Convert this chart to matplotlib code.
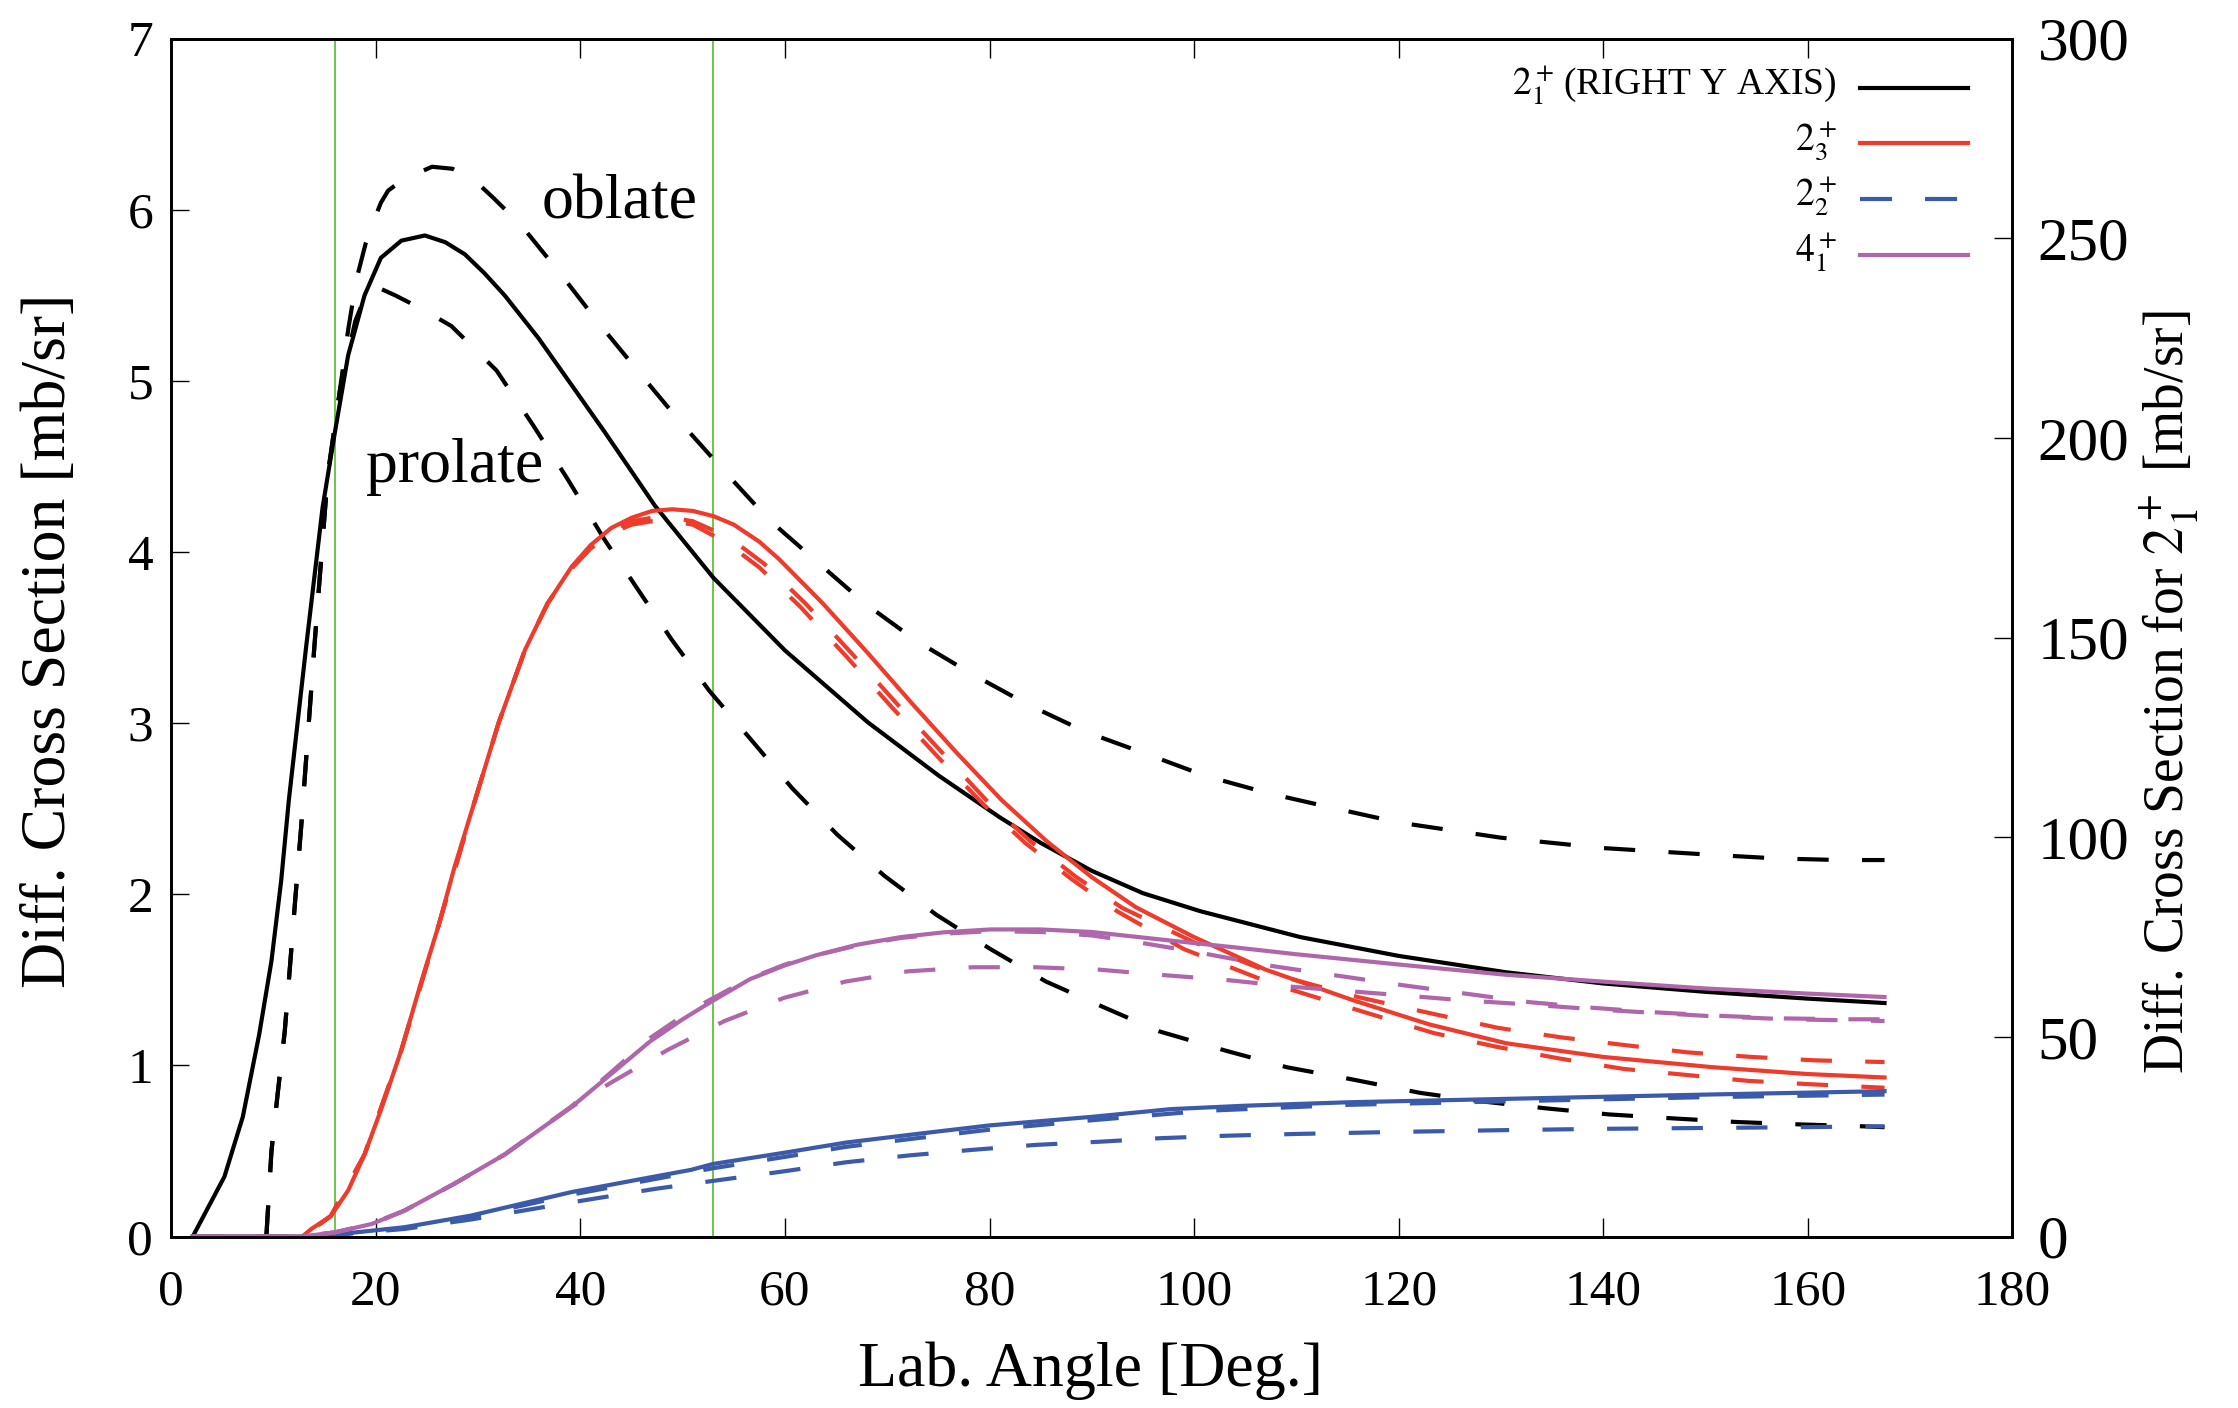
import matplotlib
matplotlib.use('Agg')
import matplotlib.pyplot as plt

plt.rcParams['font.family'] = ['Liberation Serif', 'DejaVu Serif']
plt.rcParams['mathtext.fontset'] = 'stix'

# 2_1+ curves, right axis [mb/sr]
blk_x = [2.1, 5.2, 7.0, 8.6, 9.8, 10.75, 11.5, 13.2, 14.8, 16.0, 17.3, 18.9, 20.5, 22.5, 24.8,
         26.8, 28.7, 30.6, 32.6, 35.9, 39.1, 42.4, 47.3, 53.0, 60.0, 68.1, 75.0, 81.0, 85.0, 90.0,
         95.0, 100.6, 110.4, 120.0, 130.5, 140.0, 150.0, 160.0, 167.5]
blk_y = [0, 15.0, 30.0, 50.6, 69.0, 89.1, 109.3, 147.9, 182.6, 201.4, 220.7, 235.7, 245.1, 249.4,
         250.7, 249.0, 246.0, 241.3, 235.7, 225.0, 213.4, 201.4, 183.0, 165.0, 146.8, 128.8, 115.5,
         105.0, 98.6, 91.6, 86.0, 81.5, 75.0, 70.3, 66.2, 63.4, 61.3, 59.6, 58.5]
obl_x = [9.3, 9.8, 10.4, 11.1, 11.6, 12.1, 12.7, 14.0, 15.3, 16.5, 17.3, 18.1, 19.0, 19.9, 20.5,
         21.2, 22.5, 23.9, 25.5, 27.5, 29.7, 31.5, 34.2, 38.0, 41.9, 46.0, 49.9, 54.1, 58.4, 63.0,
         67.8, 72.9, 78.2, 83.7, 89.4, 95.3, 101.2, 107.3, 114.0, 120.0, 130.0, 140.0, 150.7,
         157.0, 163.2, 167.5]
obl_y = [0, 21.4, 35.6, 51.4, 67.3, 83.6, 102.4, 147.9, 190.7, 212.1, 227.1, 239.6, 248.6, 255.0,
         258.9, 261.9, 264.4, 266.1, 267.9, 267.4, 264.4, 260.1, 253.3, 241.3, 228.4, 215.6, 203.6,
         191.6, 179.6, 169.3, 158.6, 149.1, 141.0, 133.3, 126.4, 120.9, 115.3, 111.0, 107.1, 103.7,
         99.9, 97.3, 95.6, 94.7, 94.3, 94.3]
pro_x = [9.3, 9.8, 10.4, 11.1, 11.6, 12.1, 12.7, 14.0, 15.3, 16.5, 18.0, 19.0, 20.0, 21.9, 24.5,
         27.4, 31.8, 35.4, 38.7, 42.4, 45.4, 48.9, 52.6, 56.6, 60.7, 65.1, 69.7, 74.8, 80.1, 85.5,
         91.2, 96.6, 102.9, 109.1, 115.4, 122.1, 128.0, 134.5, 140.6, 146.9, 153.1, 159.3, 165.7,
         167.5]
pro_y = [0, 21.4, 35.6, 51.4, 67.3, 83.6, 102.4, 147.9, 190.7, 212.1, 229.3, 235.7, 237.9, 235.7,
         232.3, 228.0, 216.9, 203.1, 189.9, 174.4, 162.9, 149.6, 136.7, 124.7, 112.3, 100.7, 90.4,
         80.6, 72.0, 63.9, 57.4, 51.4, 46.7, 42.4, 39.4, 36.0, 33.9, 32.1, 30.6, 29.6, 28.7, 28.1,
         27.6, 27.4]

# 2_3+ (left axis)
red_x = [2.1, 12.8, 13.7, 15.6, 17.3, 18.9, 20.5, 22.5, 24.4, 26.1, 27.7, 29.7, 32.0, 34.6, 36.8,
         39.1, 41.0, 43.0, 45.0, 47.0, 49.0, 51.0, 53.0, 55.0, 57.5, 59.4, 63.7, 68.1, 72.5, 76.9,
         81.2, 85.6, 90.0, 94.3, 100.0, 107.0, 115.6, 123.0, 130.5, 140.0, 150.7, 160.0, 167.5]
red_y = [0, 0, 0.045, 0.12, 0.27, 0.48, 0.74, 1.09, 1.48, 1.81, 2.16, 2.55, 3.0, 3.43, 3.70, 3.91,
         4.04, 4.14, 4.20, 4.24, 4.25, 4.24, 4.21, 4.16, 4.06, 3.96, 3.70, 3.41, 3.11, 2.82, 2.55,
         2.31, 2.10, 1.925, 1.75, 1.56, 1.38, 1.24, 1.13, 1.05, 0.99, 0.95, 0.93]
rda_x = [2.1, 12.8, 15.6, 18.9, 22.5, 26.1, 29.7, 32.0, 34.6, 36.8, 39.1, 41.0, 43.0, 45.0, 47.0,
         49.0, 51.0, 54.0, 56.0, 58.0, 62.0, 66.5, 71.0, 75.5, 80.0, 84.0, 88.5, 93.0, 100.0, 108.0,
         116.0, 123.5, 129.7, 135.8, 142.0, 148.2, 154.5, 160.7, 167.5]
rda_y = [0, 0, 0.12, 0.48, 1.09, 1.81, 2.55, 3.0, 3.43, 3.70, 3.91, 4.03, 4.12, 4.18, 4.20, 4.20,
         4.18, 4.10, 4.02, 3.93, 3.70, 3.41, 3.11, 2.82, 2.53, 2.31, 2.10, 1.92, 1.72, 1.53, 1.40,
         1.30, 1.22, 1.165, 1.12, 1.077, 1.05, 1.03, 1.02]
rdb_x = [2.1, 12.8, 15.6, 18.9, 22.5, 26.1, 29.7, 32.0, 34.6, 36.8, 39.1, 41.0, 43.0, 45.0, 47.0,
         49.0, 51.0, 53.5, 55.5, 57.5, 61.5, 66.0, 70.5, 75.0, 79.5, 83.5, 88.0, 92.5, 99.0, 108.0,
         117.3, 123.4, 129.5, 135.8, 142.0, 148.1, 154.2, 160.4, 167.5]
rdb_y = [0, 0, 0.12, 0.48, 1.09, 1.81, 2.55, 3.0, 3.43, 3.70, 3.90, 4.02, 4.11, 4.16, 4.18, 4.18,
         4.16, 4.08, 4.00, 3.91, 3.68, 3.39, 3.09, 2.80, 2.52, 2.30, 2.09, 1.90, 1.68, 1.47, 1.30,
         1.19, 1.11, 1.04, 0.98, 0.945, 0.91, 0.89, 0.87]

# 2_2+
blu_x = [2.1, 12.7, 16.0, 22.8, 29.3, 39.1, 46.7, 50.8, 53.0, 59.9, 66.0, 72.9, 80.0, 90.0, 97.7,
         105.0, 115.0, 130.5, 150.0, 167.5]
blu_y = [0, 0, 0.012, 0.055, 0.123, 0.26, 0.345, 0.39, 0.425, 0.49, 0.55, 0.60, 0.65, 0.70, 0.745,
         0.765, 0.785, 0.805, 0.83, 0.85]
bda_x = [2.1, 12.7, 16.0, 22.8, 29.3, 39.1, 46.7, 53.0, 59.9, 66.0, 72.9, 80.0, 90.0, 101.0, 115.0,
         130.0, 150.0, 167.5]
bda_y = [0, 0, 0.012, 0.05, 0.115, 0.245, 0.33, 0.40, 0.465, 0.525, 0.575, 0.625, 0.68, 0.735,
         0.77, 0.79, 0.815, 0.83]
bdb_x = [2.1, 12.7, 16.0, 22.8, 29.3, 39.1, 47.4, 53.5, 59.7, 65.9, 72.2, 78.3, 84.5, 90.9, 96.6,
         103.3, 110.0, 120.0, 130.0, 140.0, 150.0, 160.0, 167.5]
bdb_y = [0, 0, 0.01, 0.045, 0.10, 0.20, 0.28, 0.33, 0.38, 0.434, 0.475, 0.507, 0.536, 0.555, 0.575,
         0.59, 0.60, 0.612, 0.622, 0.63, 0.635, 0.64, 0.645]

# 4_1+
pur_x = [2.1, 12.7, 16.0, 19.6, 22.8, 27.7, 32.6, 39.1, 43.0, 46.8, 50.0, 53.0, 56.6, 60.0, 63.1,
         67.0, 71.3, 75.5, 80.1, 85.0, 90.0, 97.7, 104.0, 110.0, 120.0, 130.5, 140.0, 150.0, 160.0,
         167.5]
pur_y = [0, 0, 0.025, 0.074, 0.152, 0.31, 0.48, 0.756, 0.95, 1.14, 1.27, 1.38, 1.505, 1.585, 1.645,
         1.705, 1.75, 1.778, 1.795, 1.795, 1.78, 1.73, 1.69, 1.65, 1.59, 1.53, 1.49, 1.45, 1.42,
         1.40]
pda_x = [2.1, 12.7, 16.0, 19.6, 22.8, 27.7, 32.6, 39.1, 43.0, 46.8, 50.0, 52.4, 56.6, 60.0, 63.1,
         67.0, 71.3, 75.5, 80.1, 85.0, 90.0, 95.0, 100.0, 107.3, 113.9, 120.3, 126.5, 132.8, 139.0,
         145.3, 151.4, 157.7, 164.0, 167.5]
pda_y = [0, 0, 0.025, 0.074, 0.152, 0.31, 0.48, 0.76, 0.96, 1.16, 1.29, 1.375, 1.51, 1.59, 1.645,
         1.70, 1.745, 1.77, 1.785, 1.78, 1.76, 1.715, 1.665, 1.584, 1.526, 1.47, 1.42, 1.37, 1.337,
         1.31, 1.29, 1.275, 1.27, 1.27]
pdb_x = [2.1, 12.7, 16.0, 19.6, 22.8, 27.7, 32.6, 39.1, 43.0, 48.5, 54.1, 59.9, 65.9, 72.0, 78.3,
         84.5, 90.7, 96.6, 103.1, 109.6, 120.3, 126.5, 132.8, 140.0, 150.0, 158.0, 167.5]
pdb_y = [0, 0, 0.025, 0.074, 0.152, 0.31, 0.48, 0.756, 0.90, 1.09, 1.26, 1.395, 1.49, 1.55, 1.574,
         1.574, 1.56, 1.53, 1.50, 1.46, 1.41, 1.38, 1.356, 1.325, 1.29, 1.27, 1.26]

green_x = [16, 53]

RED = '#ee3b2b'
BLUE = '#3b5aaa'
PURPLE = '#b066aa'
GREEN = '#6cc644'
LW = 3.0
DASH = (7.5, 8)

fig = plt.figure(figsize=(22.38, 14.08), dpi=100)
ax = fig.add_axes([0.0765, 0.1217, 0.8227, 0.8509])
ax2 = ax.twinx()
ax.set_zorder(ax2.get_zorder() + 1)
ax.patch.set_visible(False)

# green markers and black (right axis) curves
for gx in green_x:
    ax2.axvline(gx, color=GREEN, lw=1.4, zorder=1)
l_blk, = ax2.plot(blk_x, blk_y, color='black', lw=LW, zorder=2)
ax2.plot(obl_x, obl_y, color='black', lw=LW, dashes=DASH, zorder=2)
ax2.plot(pro_x, pro_y, color='black', lw=LW, dashes=DASH, zorder=2)

ax.plot(rda_x, rda_y, color=RED, lw=LW, dashes=DASH)
ax.plot(rdb_x, rdb_y, color=RED, lw=LW, dashes=DASH)
l_red, = ax.plot(red_x, red_y, color=RED, lw=LW)
ax.plot(bda_x, bda_y, color=BLUE, lw=LW, dashes=DASH)
l_blu, = ax.plot(bdb_x, bdb_y, color=BLUE, lw=LW, dashes=DASH)
ax.plot(blu_x, blu_y, color=BLUE, lw=LW)
ax.plot(pda_x, pda_y, color=PURPLE, lw=LW, dashes=DASH)
ax.plot(pdb_x, pdb_y, color=PURPLE, lw=LW, dashes=DASH)
l_pur, = ax.plot(pur_x, pur_y, color=PURPLE, lw=LW)

ax.text(36.2, 5.95, 'oblate', fontsize=46, ha='left', va='baseline')
ax.text(19.06, 4.41, 'prolate', fontsize=46, ha='left', va='baseline')

ax.set_xlim(0, 180)
ax.set_ylim(0, 7)
ax2.set_ylim(0, 300)
ax.set_xticks(range(0, 181, 20))
ax.set_yticks(range(0, 8))
ax2.set_yticks(range(0, 301, 50))
ax.tick_params(axis='x', direction='in', top=True, length=14, width=1.0, labelsize=37, pad=23)
ax.tick_params(axis='y', direction='in', length=13, width=1.0, labelsize=37, pad=13)
ax2.tick_params(axis='y', direction='in', length=13, width=1.0, labelsize=44, pad=18)
for a in (ax, ax2):
    for s in a.spines.values():
        s.set_linewidth(2.0)

# key in the gnuplot manner: text right-aligned, sample on the right
key_labels = [r'$2^+_1\,$(RIGHT Y AXIS)', r'$2^+_3$', r'$2^+_2$', r'$4^+_1$']
key_lines = [l_blk, l_red, l_blu, l_pur]
key_y = [0.9590, 0.9126, 0.8661, 0.8194]
for lab, ln, ky in zip(key_labels, key_lines, key_y):
    ax.text(0.9045, ky - 0.0058, lab, transform=ax.transAxes, fontsize=27,
            ha='right', va='baseline')
    ax.plot([0.9172, 0.9760], [ky, ky], transform=ax.transAxes, clip_on=False,
            color=ln.get_color(), lw=LW, linestyle=ln.get_linestyle(),
            dashes=(7.7, 7.9) if ln is l_blu else (None, None))

fig.text(0.4873, 0.0263, 'Lab. Angle [Deg.]', ha='center', va='center', fontsize=46)
fig.text(0.0223, 0.5447, 'Diff. Cross Section [mb/sr]', ha='center', va='center',
         rotation=90, fontsize=46)
fig.text(0.9694, 0.5085, r'Diff. Cross Section for $2^+_1$ [mb/sr]', ha='center',
         va='center', rotation=90, fontsize=40)

fig.savefig('out.png', dpi=100)
